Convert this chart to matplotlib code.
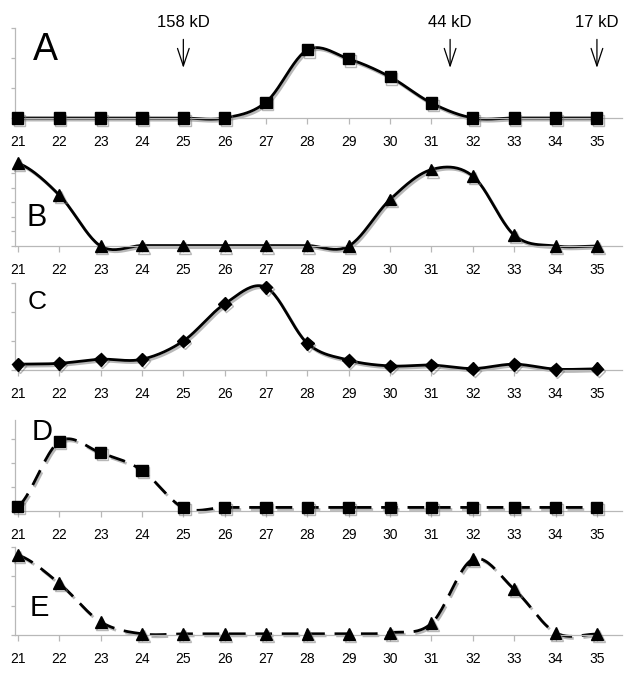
import numpy as np
import matplotlib
matplotlib.use("Agg")
import matplotlib.pyplot as plt
import matplotlib.patheffects as pe

plt.rcParams['font.family'] = ['Liberation Sans', 'DejaVu Sans']

fractions = list(range(21, 36))

# relative amounts per fraction
panel_a = [0, 0, 0, 0, 0, 0, 0.53, 2.27, 1.97, 1.37, 0.5, 0, 0, 0, 0]
panel_b = [5.7, 3.5, 0, 0.03, 0.03, 0.03, 0.03, 0.03, 0, 3.2, 5.25, 4.8, 0.75, 0, 0]
panel_c = [0.2, 0.23, 0.37, 0.37, 1.0, 2.28, 2.85, 0.92, 0.34, 0.14, 0.17, 0.05, 0.2, 0.03, 0.04]
panel_d = [0.18, 2.9, 2.43, 1.7, 0.14, 0.15, 0.15, 0.15, 0.15, 0.15, 0.15, 0.15, 0.15, 0.15, 0.15]
panel_e = [2.73, 1.76, 0.45, 0.04, 0.04, 0.04, 0.04, 0.04, 0.04, 0.08, 0.4, 2.58, 1.56, 0.08, 0.03]

markers = ["158 kD", "44 kD", "17 kD"]
marker_pos = [25, 31.45, 35]


def smooth(x, y, n=24):
    # catmull-rom like excel's "smoothed line"
    x = np.asarray(x, float)
    y = np.asarray(y, float)
    px = np.concatenate([[2 * x[0] - x[1]], x, [2 * x[-1] - x[-2]]])
    py = np.concatenate([[y[0]], y, [y[-1]]])
    xs, ys = [], []
    t = np.linspace(0, 1, n, endpoint=False)
    for i in range(1, len(px) - 2):
        for p, out in ((px, xs), (py, ys)):
            p0, p1, p2, p3 = p[i - 1], p[i], p[i + 1], p[i + 2]
            out.extend(0.5 * ((2 * p1) + (-p0 + p2) * t
                              + (2 * p0 - 5 * p1 + 4 * p2 - p3) * t ** 2
                              + (-p0 + 3 * p1 - 3 * p2 + p3) * t ** 3))
    xs.append(x[-1])
    ys.append(y[-1])
    return np.array(xs), np.array(ys)


W, H = 629, 678
fig = plt.figure(figsize=(W / 100, H / 100), dpi=100)

# (data, marker, markersize, linestyle, label, label size, label pos px, top px, bottom px, ymax, n ticks)
dash = (0, (6, 3.5))
panels = [
    (panel_a, 's', 8, '-', 'A', 27, (45, 50), 28, 118, 3.0, 4),
    (panel_b, '^', 8.5, '-', 'B', 22, (37, 218), 163, 246, 5.7, 6),
    (panel_c, 'D', 6.5, '-', 'C', 19, (37, 302), 283, 370, 3.0, 4),
    (panel_d, 's', 8, dash, 'D', 21, (42, 432), 420, 511, 3.8, 4),
    (panel_e, '^', 8.5, dash, 'E', 21, (39, 608), 547, 635, 3.0, 4),
]

shadow = [pe.SimpleLineShadow(offset=(1.2, -1.5), shadow_color='0.45', alpha=0.5), pe.Normal()]
x_left, x_right = 20.93, 35.6
unit = 41.36
axes = []
for vals, mk, ms, ls, lab, lsize, lpos, top, bot, ymax, nt in panels:
    ax = fig.add_axes([15 / W, 1 - bot / H, (x_right - x_left) * unit / W, (bot - top) / H])
    sx, sy = smooth(fractions, vals)
    ax.plot(sx, sy, color='black', lw=2.0, linestyle=ls, clip_on=False, path_effects=shadow)
    ax.plot(fractions, vals, linestyle='none', marker=mk, ms=ms, color='black',
            clip_on=False, zorder=3, path_effects=shadow)
    ax.set_xlim(x_left, x_right)
    ax.set_ylim(0, ymax)
    ax.set_xticks(fractions)
    ax.set_yticks(range(nt))
    ax.set_yticklabels([])
    for s in ['top', 'right']:
        ax.spines[s].set_visible(False)
    for s in ['left', 'bottom']:
        ax.spines[s].set_color('#b8b8b8')
        ax.spines[s].set_linewidth(0.9)
    ax.tick_params(axis='x', length=4, width=0.9, color='#b8b8b8', pad=8, labelsize=10)
    ax.tick_params(axis='y', length=3, width=0.9, color='#b8b8b8')
    ax.patch.set_visible(False)
    fig.text(lpos[0] / W, 1 - lpos[1] / H, lab, fontsize=lsize, ha='center', va='center')
    axes.append(ax)

ax_a = axes[0]
for name, xp in zip(markers, marker_pos):
    ax_a.annotate('', xy=(xp, 1.67), xytext=(xp, 2.62),
                  arrowprops=dict(arrowstyle='->,head_length=0.9,head_width=0.3', lw=0.9,
                                  color='black', mutation_scale=14, shrinkA=0, shrinkB=0),
                  annotation_clip=False)
    ax_a.text(xp, 3.17, name, fontsize=12, ha='center', va='center', clip_on=False)

fig.savefig('out.png', dpi=100)
